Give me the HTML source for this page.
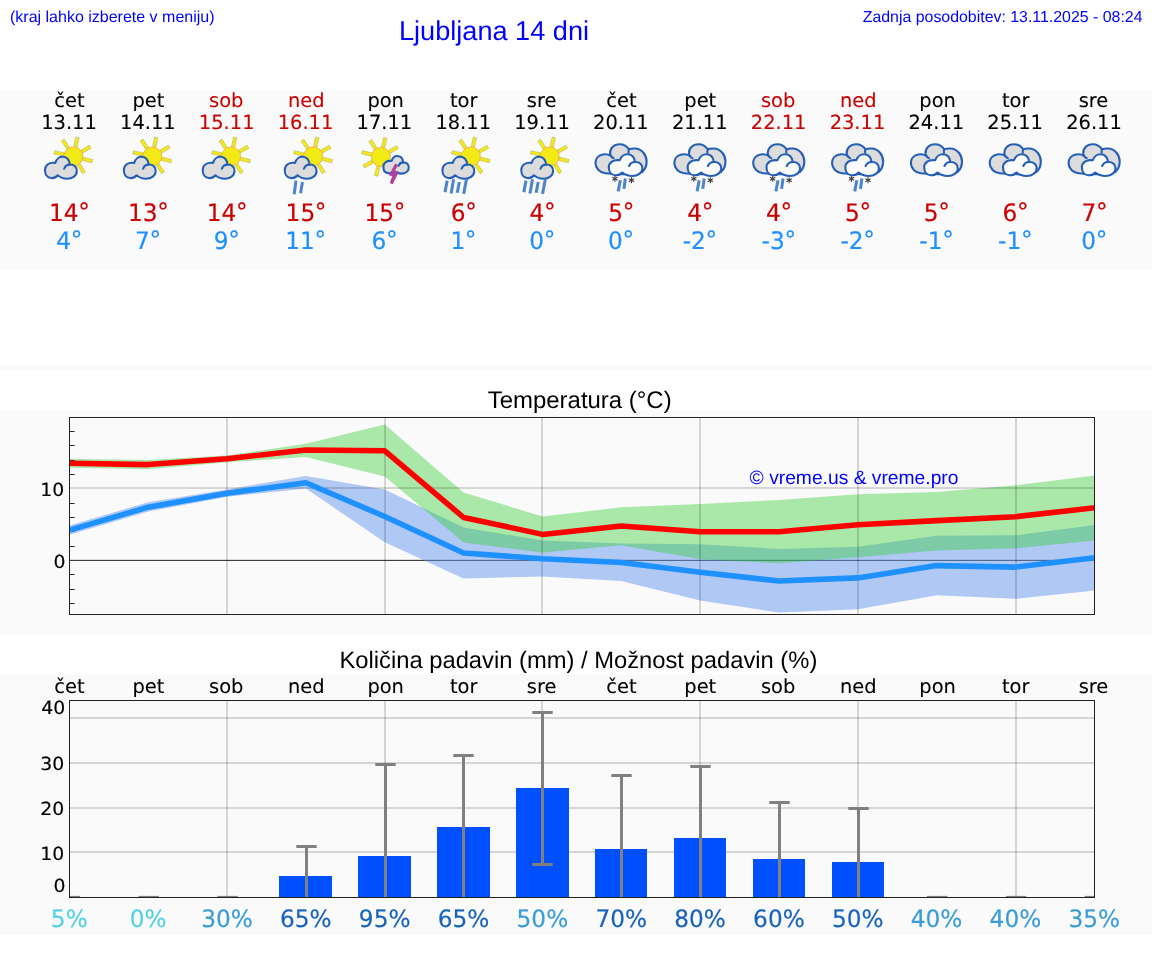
<!DOCTYPE html>
<html lang="sl"><head><meta charset="utf-8"><title>Ljubljana 14 dni</title>
<style>html,body{margin:0;padding:0;background:#fff}body{width:1152px;height:975px;overflow:hidden}svg{display:block}.dv{font-family:'DejaVu Sans','Liberation Sans',sans-serif}.dv text{fill:currentColor;stroke:currentColor;stroke-width:.18px}.dv text.n{stroke-width:.1px}.ls{font-family:'Liberation Sans',Arial,Helvetica,sans-serif}text{text-rendering:geometricPrecision}</style></head><body>
<svg width="1152" height="975" viewBox="0 0 1152 975">
<defs>
<g id="sc"><g transform="translate(-39.50,130) scale(0.07179)"><g transform="translate(605,368)"><rect x="138" y="-24" width="134" height="48" fill="#f2ea14" stroke="#a8a27c" stroke-width="6" transform="rotate(-168.0)"/><rect x="138" y="-24" width="134" height="48" fill="#f2ea14" stroke="#a8a27c" stroke-width="6" transform="rotate(-123.0)"/><rect x="138" y="-24" width="134" height="48" fill="#f2ea14" stroke="#a8a27c" stroke-width="6" transform="rotate(-78.0)"/><rect x="138" y="-24" width="134" height="48" fill="#f2ea14" stroke="#a8a27c" stroke-width="6" transform="rotate(-30.0)"/><rect x="138" y="-24" width="134" height="48" fill="#f2ea14" stroke="#a8a27c" stroke-width="6" transform="rotate(14.0)"/><rect x="138" y="-24" width="134" height="48" fill="#f2ea14" stroke="#a8a27c" stroke-width="6" transform="rotate(57.0)"/><circle r="132" fill="#f2ea14" stroke="#f5ae28" stroke-width="12"/></g><g transform="translate(17.0,21.0) scale(0.960,0.960)"><path d="M350 455 C370 390 420 362 460 365 C520 370 555 420 560 480 C620 475 665 520 662 575 C660 640 600 685 520 685 C470 685 420 665 385 635 C360 665 320 680 285 675 C230 670 198 620 200 555 C202 490 260 440 350 455 Z" fill="#dcdcdc" stroke="#255fb5" stroke-width="30.2" stroke-linejoin="round"/><path d="M560 480 C520 480 490 505 478 540" fill="none" stroke="#255fb5" stroke-width="30.2" stroke-linecap="round"/></g></g></g>
<g id="sr2"><g transform="translate(-39.50,130) scale(0.07179)"><g transform="translate(605,368)"><rect x="138" y="-24" width="134" height="48" fill="#f2ea14" stroke="#a8a27c" stroke-width="6" transform="rotate(-168.0)"/><rect x="138" y="-24" width="134" height="48" fill="#f2ea14" stroke="#a8a27c" stroke-width="6" transform="rotate(-123.0)"/><rect x="138" y="-24" width="134" height="48" fill="#f2ea14" stroke="#a8a27c" stroke-width="6" transform="rotate(-78.0)"/><rect x="138" y="-24" width="134" height="48" fill="#f2ea14" stroke="#a8a27c" stroke-width="6" transform="rotate(-30.0)"/><rect x="138" y="-24" width="134" height="48" fill="#f2ea14" stroke="#a8a27c" stroke-width="6" transform="rotate(14.0)"/><rect x="138" y="-24" width="134" height="48" fill="#f2ea14" stroke="#a8a27c" stroke-width="6" transform="rotate(57.0)"/><circle r="132" fill="#f2ea14" stroke="#f5ae28" stroke-width="12"/></g><g transform="translate(17.0,21.0) scale(0.960,0.960)"><path d="M350 455 C370 390 420 362 460 365 C520 370 555 420 560 480 C620 475 665 520 662 575 C660 640 600 685 520 685 C470 685 420 665 385 635 C360 665 320 680 285 675 C230 670 198 620 200 555 C202 490 260 440 350 455 Z" fill="#dcdcdc" stroke="#255fb5" stroke-width="30.2" stroke-linejoin="round"/><path d="M560 480 C520 480 490 505 478 540" fill="none" stroke="#255fb5" stroke-width="30.2" stroke-linecap="round"/></g><line x1="365" y1="705" x2="340" y2="895" stroke="#3d79c9" stroke-opacity="0.92" stroke-width="42"/><line x1="455" y1="725" x2="430" y2="880" stroke="#3d79c9" stroke-opacity="0.92" stroke-width="42"/></g></g>
<g id="sr4"><g transform="translate(-39.50,130) scale(0.07179)"><g transform="translate(605,368)"><rect x="138" y="-24" width="134" height="48" fill="#f2ea14" stroke="#a8a27c" stroke-width="6" transform="rotate(-168.0)"/><rect x="138" y="-24" width="134" height="48" fill="#f2ea14" stroke="#a8a27c" stroke-width="6" transform="rotate(-123.0)"/><rect x="138" y="-24" width="134" height="48" fill="#f2ea14" stroke="#a8a27c" stroke-width="6" transform="rotate(-78.0)"/><rect x="138" y="-24" width="134" height="48" fill="#f2ea14" stroke="#a8a27c" stroke-width="6" transform="rotate(-30.0)"/><rect x="138" y="-24" width="134" height="48" fill="#f2ea14" stroke="#a8a27c" stroke-width="6" transform="rotate(14.0)"/><rect x="138" y="-24" width="134" height="48" fill="#f2ea14" stroke="#a8a27c" stroke-width="6" transform="rotate(57.0)"/><circle r="132" fill="#f2ea14" stroke="#f5ae28" stroke-width="12"/></g><g transform="translate(17.0,21.0) scale(0.960,0.960)"><path d="M350 455 C370 390 420 362 460 365 C520 370 555 420 560 480 C620 475 665 520 662 575 C660 640 600 685 520 685 C470 685 420 665 385 635 C360 665 320 680 285 675 C230 670 198 620 200 555 C202 490 260 440 350 455 Z" fill="#dcdcdc" stroke="#255fb5" stroke-width="30.2" stroke-linejoin="round"/><path d="M560 480 C520 480 490 505 478 540" fill="none" stroke="#255fb5" stroke-width="30.2" stroke-linecap="round"/></g><line x1="275" y1="705" x2="245" y2="865" stroke="#3d79c9" stroke-opacity="0.92" stroke-width="42"/><line x1="365" y1="685" x2="330" y2="885" stroke="#3d79c9" stroke-opacity="0.92" stroke-width="42"/><line x1="445" y1="725" x2="415" y2="875" stroke="#3d79c9" stroke-opacity="0.92" stroke-width="42"/><line x1="545" y1="680" x2="505" y2="890" stroke="#3d79c9" stroke-opacity="0.92" stroke-width="42"/></g></g>
<g id="st"><g transform="translate(-39.90,130) scale(0.07179)"><g transform="translate(500,375)"><rect x="138" y="-24" width="134" height="48" fill="#f2ea14" stroke="#a8a27c" stroke-width="6" transform="rotate(-166.0)"/><rect x="138" y="-24" width="134" height="48" fill="#f2ea14" stroke="#a8a27c" stroke-width="6" transform="rotate(-123.0)"/><rect x="138" y="-24" width="134" height="48" fill="#f2ea14" stroke="#a8a27c" stroke-width="6" transform="rotate(-77.0)"/><rect x="138" y="-24" width="134" height="48" fill="#f2ea14" stroke="#a8a27c" stroke-width="6" transform="rotate(-31.0)"/><rect x="138" y="-24" width="134" height="48" fill="#f2ea14" stroke="#a8a27c" stroke-width="6" transform="rotate(104.0)"/><rect x="138" y="-24" width="134" height="48" fill="#f2ea14" stroke="#a8a27c" stroke-width="6" transform="rotate(151.0)"/><circle r="132" fill="#f2ea14" stroke="#f5ae28" stroke-width="12"/></g><g transform="translate(382.0,84.0) scale(0.765,0.765)"><path d="M350 455 C370 390 420 362 460 365 C520 370 555 420 560 480 C620 475 665 520 662 575 C660 640 600 685 520 685 C470 685 420 665 385 635 C360 665 320 680 285 675 C230 670 198 620 200 555 C202 490 260 440 350 455 Z" fill="#dcdcdc" stroke="#255fb5" stroke-width="37.9" stroke-linejoin="round"/><path d="M560 480 C520 480 490 505 478 540" fill="none" stroke="#255fb5" stroke-width="37.9" stroke-linecap="round"/></g><path d="M700 465 L742 490 L692 572 L752 577 L665 757 L623 737 L660 642 L610 635 Z" fill="#b040a0"/></g></g>
<g id="cl"><g transform="translate(-39.85,130) scale(0.07179)"><path d="M410 360 C380 342 335 334 295 342 C228 354 192 408 194 465 C196 535 255 596 330 602 L470 612 L700 618 L845 585 C885 550 906 500 906 440 C906 350 845 262 740 258 C710 257 680 261 660 270 C630 222 585 198 530 198 C450 198 390 255 398 330 C399 340 403 352 410 360 Z" fill="#dcdcdc" stroke="#255fb5" stroke-width="29" stroke-linejoin="round"/><path d="M410 360 C420 376 432 386 446 392 M660 270 C652 285 651 300 656 316" fill="none" stroke="#255fb5" stroke-width="29" stroke-linecap="round"/><g transform="translate(176.7,-7.2) scale(1.014,0.944)"><path d="M350 455 C370 390 420 362 460 365 C520 370 555 420 560 480 C620 475 665 520 662 575 C660 640 600 685 520 685 C470 685 420 665 385 635 C360 665 320 680 285 675 C230 670 198 620 200 555 C202 490 260 440 350 455 Z" fill="#fcfcfc" stroke="#255fb5" stroke-width="29.6" stroke-linejoin="round"/><path d="M560 480 C520 480 490 505 478 540" fill="none" stroke="#255fb5" stroke-width="29.6" stroke-linecap="round"/></g></g></g>
<g id="sl"><g transform="translate(-39.85,130) scale(0.07179)"><path d="M410 360 C380 342 335 334 295 342 C228 354 192 408 194 465 C196 535 255 596 330 602 L470 612 L700 618 L845 585 C885 550 906 500 906 440 C906 350 845 262 740 258 C710 257 680 261 660 270 C630 222 585 198 530 198 C450 198 390 255 398 330 C399 340 403 352 410 360 Z" fill="#dcdcdc" stroke="#255fb5" stroke-width="29" stroke-linejoin="round"/><path d="M410 360 C420 376 432 386 446 392 M660 270 C652 285 651 300 656 316" fill="none" stroke="#255fb5" stroke-width="29" stroke-linecap="round"/><g transform="translate(176.7,-7.2) scale(1.014,0.944)"><path d="M350 455 C370 390 420 362 460 365 C520 370 555 420 560 480 C620 475 665 520 662 575 C660 640 600 685 520 685 C470 685 420 665 385 635 C360 665 320 680 285 675 C230 670 198 620 200 555 C202 490 260 440 350 455 Z" fill="#fcfcfc" stroke="#255fb5" stroke-width="29.6" stroke-linejoin="round"/><path d="M560 480 C520 480 490 505 478 540" fill="none" stroke="#255fb5" stroke-width="29.6" stroke-linecap="round"/></g><line x1="465" y1="638" x2="465" y2="722" stroke="#3c3c3c" stroke-width="15"/><line x1="501" y1="659" x2="429" y2="701" stroke="#3c3c3c" stroke-width="15"/><line x1="501" y1="701" x2="429" y2="659" stroke="#3c3c3c" stroke-width="15"/><line x1="695" y1="658" x2="695" y2="742" stroke="#3c3c3c" stroke-width="15"/><line x1="731" y1="679" x2="659" y2="721" stroke="#3c3c3c" stroke-width="15"/><line x1="731" y1="721" x2="659" y2="679" stroke="#3c3c3c" stroke-width="15"/><line x1="540" y1="700" x2="510" y2="855" stroke="#3d79c9" stroke-opacity="0.92" stroke-width="42"/><line x1="610" y1="675" x2="590" y2="820" stroke="#3d79c9" stroke-opacity="0.92" stroke-width="42"/></g></g>
</defs>
<rect x="0" y="90" width="1152" height="180" fill="#fafafa"/>
<rect x="0" y="365" width="1152" height="5" fill="#fafafa"/>
<rect x="0" y="410" width="1152" height="225" fill="#fafafa"/>
<rect x="0" y="675" width="1152" height="260" fill="#fafafa"/>
<g class="ls" fill="#0000ff">
<text x="10" y="22" font-size="16">(kraj lahko izberete v meniju)</text>
<text x="494" y="39.6" font-size="27.15" text-anchor="middle">Ljubljana 14 dni</text>
<text x="1142.5" y="22.1" font-size="15.9" text-anchor="end">Zadnja posodobitev: 13.11.2025 - 08:24</text>
</g>
<g class="dv" text-anchor="middle">
<text class="n" x="69.50" y="107" font-size="19.44" color="#000">čet</text>
<text class="n" x="69.00" y="129" font-size="19.44" color="#000">13.11</text>
<use href="#sc" x="69.50" y="0"/>
<text transform="translate(69.50,221.20) scale(0.985,1.020)" font-size="23.60" color="#cc0000" text-anchor="middle">14<tspan dy="-0.9" dx="-0.3">°</tspan></text>
<text transform="translate(69.20,248.80) scale(0.985,1.020)" font-size="23.60" color="#1e90ff" text-anchor="middle">4<tspan dy="-0.9" dx="-0.3">°</tspan></text>
<text class="n" x="148.35" y="107" font-size="19.44" color="#000">pet</text>
<text class="n" x="147.85" y="129" font-size="19.44" color="#000">14.11</text>
<use href="#sc" x="148.35" y="0"/>
<text transform="translate(148.35,221.20) scale(0.985,1.020)" font-size="23.60" color="#cc0000" text-anchor="middle">13<tspan dy="-0.9" dx="-0.3">°</tspan></text>
<text transform="translate(148.05,248.80) scale(0.985,1.020)" font-size="23.60" color="#1e90ff" text-anchor="middle">7<tspan dy="-0.9" dx="-0.3">°</tspan></text>
<text class="n" x="226.19" y="107" font-size="19.44" color="#cc0000">sob</text>
<text class="n" x="226.69" y="129" font-size="19.44" color="#cc0000">15.11</text>
<use href="#sc" x="227.19" y="0"/>
<text transform="translate(227.19,221.20) scale(0.985,1.020)" font-size="23.60" color="#cc0000" text-anchor="middle">14<tspan dy="-0.9" dx="-0.3">°</tspan></text>
<text transform="translate(226.89,248.80) scale(0.985,1.020)" font-size="23.60" color="#1e90ff" text-anchor="middle">9<tspan dy="-0.9" dx="-0.3">°</tspan></text>
<text class="n" x="306.34" y="107" font-size="19.44" color="#cc0000">ned</text>
<text class="n" x="305.54" y="129" font-size="19.44" color="#cc0000">16.11</text>
<use href="#sr2" x="309.24" y="0"/>
<text transform="translate(306.04,221.20) scale(0.985,1.020)" font-size="23.60" color="#cc0000" text-anchor="middle">15<tspan dy="-0.9" dx="-0.3">°</tspan></text>
<text transform="translate(305.74,248.80) scale(0.985,1.020)" font-size="23.60" color="#1e90ff" text-anchor="middle">11<tspan dy="-0.9" dx="-0.3">°</tspan></text>
<text class="n" x="385.68" y="107" font-size="19.44" color="#000">pon</text>
<text class="n" x="384.38" y="129" font-size="19.44" color="#000">17.11</text>
<use href="#st" x="384.88" y="0"/>
<text transform="translate(384.88,221.20) scale(0.985,1.020)" font-size="23.60" color="#cc0000" text-anchor="middle">15<tspan dy="-0.9" dx="-0.3">°</tspan></text>
<text transform="translate(384.58,248.80) scale(0.985,1.020)" font-size="23.60" color="#1e90ff" text-anchor="middle">6<tspan dy="-0.9" dx="-0.3">°</tspan></text>
<text class="n" x="463.73" y="107" font-size="19.44" color="#000">tor</text>
<text class="n" x="463.23" y="129" font-size="19.44" color="#000">18.11</text>
<use href="#sr4" x="466.93" y="0"/>
<text transform="translate(463.73,221.20) scale(0.985,1.020)" font-size="23.60" color="#cc0000" text-anchor="middle">6<tspan dy="-0.9" dx="-0.3">°</tspan></text>
<text transform="translate(463.43,248.80) scale(0.985,1.020)" font-size="23.60" color="#1e90ff" text-anchor="middle">1<tspan dy="-0.9" dx="-0.3">°</tspan></text>
<text class="n" x="541.58" y="107" font-size="19.44" color="#000">sre</text>
<text class="n" x="542.08" y="129" font-size="19.44" color="#000">19.11</text>
<use href="#sr4" x="545.78" y="0"/>
<text transform="translate(542.58,221.20) scale(0.985,1.020)" font-size="23.60" color="#cc0000" text-anchor="middle">4<tspan dy="-0.9" dx="-0.3">°</tspan></text>
<text transform="translate(542.28,248.80) scale(0.985,1.020)" font-size="23.60" color="#1e90ff" text-anchor="middle">0<tspan dy="-0.9" dx="-0.3">°</tspan></text>
<text class="n" x="621.42" y="107" font-size="19.44" color="#000">čet</text>
<text class="n" x="620.92" y="129" font-size="19.44" color="#000">20.11</text>
<use href="#sl" x="621.42" y="0"/>
<text transform="translate(621.42,221.20) scale(0.985,1.020)" font-size="23.60" color="#cc0000" text-anchor="middle">5<tspan dy="-0.9" dx="-0.3">°</tspan></text>
<text transform="translate(621.12,248.80) scale(0.985,1.020)" font-size="23.60" color="#1e90ff" text-anchor="middle">0<tspan dy="-0.9" dx="-0.3">°</tspan></text>
<text class="n" x="700.27" y="107" font-size="19.44" color="#000">pet</text>
<text class="n" x="699.77" y="129" font-size="19.44" color="#000">21.11</text>
<use href="#sl" x="700.27" y="0"/>
<text transform="translate(700.27,221.20) scale(0.985,1.020)" font-size="23.60" color="#cc0000" text-anchor="middle">4<tspan dy="-0.9" dx="-0.3">°</tspan></text>
<text transform="translate(699.97,248.80) scale(0.985,1.020)" font-size="23.60" color="#1e90ff" text-anchor="middle">-2<tspan dy="-0.9" dx="-0.3">°</tspan></text>
<text class="n" x="778.12" y="107" font-size="19.44" color="#cc0000">sob</text>
<text class="n" x="778.62" y="129" font-size="19.44" color="#cc0000">22.11</text>
<use href="#sl" x="779.12" y="0"/>
<text transform="translate(779.12,221.20) scale(0.985,1.020)" font-size="23.60" color="#cc0000" text-anchor="middle">4<tspan dy="-0.9" dx="-0.3">°</tspan></text>
<text transform="translate(778.82,248.80) scale(0.985,1.020)" font-size="23.60" color="#1e90ff" text-anchor="middle">-3<tspan dy="-0.9" dx="-0.3">°</tspan></text>
<text class="n" x="858.26" y="107" font-size="19.44" color="#cc0000">ned</text>
<text class="n" x="857.46" y="129" font-size="19.44" color="#cc0000">23.11</text>
<use href="#sl" x="857.96" y="0"/>
<text transform="translate(857.96,221.20) scale(0.985,1.020)" font-size="23.60" color="#cc0000" text-anchor="middle">5<tspan dy="-0.9" dx="-0.3">°</tspan></text>
<text transform="translate(857.66,248.80) scale(0.985,1.020)" font-size="23.60" color="#1e90ff" text-anchor="middle">-2<tspan dy="-0.9" dx="-0.3">°</tspan></text>
<text class="n" x="937.61" y="107" font-size="19.44" color="#000">pon</text>
<text class="n" x="936.31" y="129" font-size="19.44" color="#000">24.11</text>
<use href="#cl" x="936.81" y="0"/>
<text transform="translate(936.81,221.20) scale(0.985,1.020)" font-size="23.60" color="#cc0000" text-anchor="middle">5<tspan dy="-0.9" dx="-0.3">°</tspan></text>
<text transform="translate(936.51,248.80) scale(0.985,1.020)" font-size="23.60" color="#1e90ff" text-anchor="middle">-1<tspan dy="-0.9" dx="-0.3">°</tspan></text>
<text class="n" x="1015.65" y="107" font-size="19.44" color="#000">tor</text>
<text class="n" x="1015.15" y="129" font-size="19.44" color="#000">25.11</text>
<use href="#cl" x="1015.65" y="0"/>
<text transform="translate(1015.65,221.20) scale(0.985,1.020)" font-size="23.60" color="#cc0000" text-anchor="middle">6<tspan dy="-0.9" dx="-0.3">°</tspan></text>
<text transform="translate(1015.35,248.80) scale(0.985,1.020)" font-size="23.60" color="#1e90ff" text-anchor="middle">-1<tspan dy="-0.9" dx="-0.3">°</tspan></text>
<text class="n" x="1093.50" y="107" font-size="19.44" color="#000">sre</text>
<text class="n" x="1094.00" y="129" font-size="19.44" color="#000">26.11</text>
<use href="#cl" x="1094.50" y="0"/>
<text transform="translate(1094.50,221.20) scale(0.985,1.020)" font-size="23.60" color="#cc0000" text-anchor="middle">7<tspan dy="-0.9" dx="-0.3">°</tspan></text>
<text transform="translate(1094.20,248.80) scale(0.985,1.020)" font-size="23.60" color="#1e90ff" text-anchor="middle">0<tspan dy="-0.9" dx="-0.3">°</tspan></text>
</g>
<text class="ls" x="579.7" y="408" font-size="23.95" text-anchor="middle" fill="#000">Temperatura (°C)</text>
<clipPath id="ct"><rect x="69.5" y="417.5" width="1025.0" height="197.0"/></clipPath>
<g clip-path="url(#ct)">
<line x1="69.5" y1="560.36" x2="1094.5" y2="560.36" stroke="#000" stroke-opacity="0.88" stroke-width="1"/>
<polygon points="69.4,525.4 148.2,502.2 227.1,489.4 305.9,476.0 384.8,489.6 463.6,527.5 542.5,540.6 621.3,543.5 700.2,544.2 779.0,549.0 857.9,546.7 936.7,535.8 1015.6,535.2 1095.0,525.0 1095.0,590.4 1015.6,598.8 936.7,595.2 857.9,609.2 779.0,612.5 700.2,600.4 621.3,581.0 542.5,576.5 463.6,578.5 384.8,542.3 305.9,488.5 227.1,496.8 148.2,511.6 69.4,534.8" fill="#6495ed" fill-opacity="0.5"/>
<polygon points="69.4,458.8 148.2,460.0 227.1,455.4 305.9,443.8 384.8,424.4 463.6,492.5 542.5,516.5 621.3,507.3 700.2,504.0 779.0,500.0 857.9,494.2 936.7,492.0 1015.6,485.2 1095.0,475.4 1095.0,540.6 1015.6,548.3 936.7,550.4 857.9,557.3 779.0,563.3 700.2,559.2 621.3,545.2 542.5,552.5 463.6,542.5 384.8,476.6 305.9,456.9 227.1,462.3 148.2,469.3 69.4,467.8" fill="#32cd32" fill-opacity="0.4"/>
<line x1="227" y1="417.5" x2="227" y2="614.5" stroke="#000" stroke-opacity="0.145" stroke-width="2"/>
<line x1="385" y1="417.5" x2="385" y2="614.5" stroke="#000" stroke-opacity="0.145" stroke-width="2"/>
<line x1="542" y1="417.5" x2="542" y2="614.5" stroke="#000" stroke-opacity="0.145" stroke-width="2"/>
<line x1="700" y1="417.5" x2="700" y2="614.5" stroke="#000" stroke-opacity="0.145" stroke-width="2"/>
<line x1="858" y1="417.5" x2="858" y2="614.5" stroke="#000" stroke-opacity="0.145" stroke-width="2"/>
<line x1="1016" y1="417.5" x2="1016" y2="614.5" stroke="#000" stroke-opacity="0.145" stroke-width="2"/>
<line x1="69.5" y1="488" x2="1094.5" y2="488" stroke="#000" stroke-opacity="0.145" stroke-width="2"/>
<line x1="69.5" y1="603.5" x2="74.5" y2="603.5" stroke="#222" stroke-width="1"/>
<line x1="69.5" y1="589.5" x2="74.5" y2="589.5" stroke="#222" stroke-width="1"/>
<line x1="69.5" y1="574.5" x2="74.5" y2="574.5" stroke="#222" stroke-width="1"/>
<line x1="69.5" y1="546.5" x2="74.5" y2="546.5" stroke="#222" stroke-width="1"/>
<line x1="69.5" y1="531.5" x2="74.5" y2="531.5" stroke="#222" stroke-width="1"/>
<line x1="69.5" y1="517.5" x2="74.5" y2="517.5" stroke="#222" stroke-width="1"/>
<line x1="69.5" y1="503.5" x2="74.5" y2="503.5" stroke="#222" stroke-width="1"/>
<line x1="69.5" y1="474.5" x2="74.5" y2="474.5" stroke="#222" stroke-width="1"/>
<line x1="69.5" y1="460.5" x2="74.5" y2="460.5" stroke="#222" stroke-width="1"/>
<line x1="69.5" y1="445.5" x2="74.5" y2="445.5" stroke="#222" stroke-width="1"/>
<line x1="69.5" y1="431.5" x2="74.5" y2="431.5" stroke="#222" stroke-width="1"/>
<polyline points="69.4,463.3 148.2,464.6 227.1,458.8 305.9,450.0 384.8,450.8 463.6,517.5 542.5,534.4 621.3,526.0 700.2,531.7 779.0,531.7 857.9,524.8 936.7,520.6 1015.6,516.7 1095.0,507.7" fill="none" stroke="#ff0000" stroke-width="5.56" stroke-linejoin="round"/>
<polyline points="69.4,530.2 148.2,507.2 227.1,493.3 305.9,482.7 384.8,516.5 463.6,552.9 542.5,558.8 621.3,562.5 700.2,572.3 779.0,581.0 857.9,577.9 936.7,565.6 1015.6,567.1 1095.0,557.7" fill="none" stroke="#1e90ff" stroke-width="5.56" stroke-linejoin="round"/>
</g>
<rect x="69.5" y="417.5" width="1025.0" height="197.0" fill="none" stroke="#222" stroke-width="1"/>
<g class="dv"><text transform="translate(64.20,495.50) scale(1.090,1.050)" font-size="17.30" color="#000" text-anchor="end">10</text><text transform="translate(65.50,567.60) scale(1.090,1.050)" font-size="17.30" color="#000" text-anchor="end">0</text></g>
<text class="ls" x="749.6" y="483.8" font-size="19.25" fill="#0000ff">© vreme.us &amp; vreme.pro</text>
<text class="ls" x="578.4" y="668" font-size="23.75" text-anchor="middle" fill="#000">Količina padavin (mm) / Možnost padavin (%)</text>
<g class="dv" font-size="19.44" text-anchor="middle" color="#000">
<text class="n" x="69.50" y="693.1">čet</text>
<text class="n" x="148.35" y="693.1">pet</text>
<text class="n" x="226.19" y="693.1">sob</text>
<text class="n" x="306.34" y="693.1">ned</text>
<text class="n" x="385.68" y="693.1">pon</text>
<text class="n" x="463.73" y="693.1">tor</text>
<text class="n" x="541.58" y="693.1">sre</text>
<text class="n" x="621.42" y="693.1">čet</text>
<text class="n" x="700.27" y="693.1">pet</text>
<text class="n" x="778.12" y="693.1">sob</text>
<text class="n" x="858.26" y="693.1">ned</text>
<text class="n" x="937.61" y="693.1">pon</text>
<text class="n" x="1015.65" y="693.1">tor</text>
<text class="n" x="1093.50" y="693.1">sre</text>
</g>
<line x1="227" y1="700.5" x2="227" y2="897.5" stroke="#000" stroke-opacity="0.145" stroke-width="2"/>
<line x1="385" y1="700.5" x2="385" y2="897.5" stroke="#000" stroke-opacity="0.145" stroke-width="2"/>
<line x1="542" y1="700.5" x2="542" y2="897.5" stroke="#000" stroke-opacity="0.145" stroke-width="2"/>
<line x1="700" y1="700.5" x2="700" y2="897.5" stroke="#000" stroke-opacity="0.145" stroke-width="2"/>
<line x1="858" y1="700.5" x2="858" y2="897.5" stroke="#000" stroke-opacity="0.145" stroke-width="2"/>
<line x1="1016" y1="700.5" x2="1016" y2="897.5" stroke="#000" stroke-opacity="0.145" stroke-width="2"/>
<line x1="69.5" y1="852" x2="1094.5" y2="852" stroke="#000" stroke-opacity="0.145" stroke-width="2"/>
<line x1="69.5" y1="808" x2="1094.5" y2="808" stroke="#000" stroke-opacity="0.145" stroke-width="2"/>
<line x1="69.5" y1="763" x2="1094.5" y2="763" stroke="#000" stroke-opacity="0.145" stroke-width="2"/>
<line x1="69.5" y1="718" x2="1094.5" y2="718" stroke="#000" stroke-opacity="0.145" stroke-width="2"/>
<line x1="69.5" y1="896.7" x2="80.1" y2="896.7" stroke="#808080" stroke-width="1.6"/>
<line x1="138.5" y1="896.7" x2="158.9" y2="896.7" stroke="#808080" stroke-width="1.6"/>
<line x1="217.4" y1="896.7" x2="237.8" y2="896.7" stroke="#808080" stroke-width="1.6"/>
<rect x="279.0" y="876.0" width="53.0" height="21.5" fill="#0050ff"/>
<line x1="306.5" y1="846.5" x2="306.5" y2="897.5" stroke="#808080" stroke-width="3"/>
<line x1="296.3" y1="846.5" x2="316.7" y2="846.5" stroke="#808080" stroke-width="3"/>
<rect x="358.0" y="856.0" width="53.0" height="41.5" fill="#0050ff"/>
<line x1="385.5" y1="764.5" x2="385.5" y2="897.5" stroke="#808080" stroke-width="3"/>
<line x1="375.3" y1="764.5" x2="395.7" y2="764.5" stroke="#808080" stroke-width="3"/>
<rect x="437.0" y="827.0" width="53.0" height="70.5" fill="#0050ff"/>
<line x1="463.5" y1="755.5" x2="463.5" y2="897.5" stroke="#808080" stroke-width="3"/>
<line x1="453.3" y1="755.5" x2="473.7" y2="755.5" stroke="#808080" stroke-width="3"/>
<rect x="516.0" y="788.0" width="53.0" height="109.5" fill="#0050ff"/>
<line x1="542.5" y1="712.5" x2="542.5" y2="864.5" stroke="#808080" stroke-width="3"/>
<line x1="532.3" y1="712.5" x2="552.7" y2="712.5" stroke="#808080" stroke-width="3"/>
<line x1="532.3" y1="864.5" x2="552.7" y2="864.5" stroke="#808080" stroke-width="3"/>
<rect x="595.0" y="849.0" width="52.0" height="48.5" fill="#0050ff"/>
<line x1="621.5" y1="775.5" x2="621.5" y2="897.5" stroke="#808080" stroke-width="3"/>
<line x1="611.3" y1="775.5" x2="631.7" y2="775.5" stroke="#808080" stroke-width="3"/>
<rect x="674.0" y="838.0" width="52.0" height="59.5" fill="#0050ff"/>
<line x1="700.5" y1="766.5" x2="700.5" y2="897.5" stroke="#808080" stroke-width="3"/>
<line x1="690.3" y1="766.5" x2="710.7" y2="766.5" stroke="#808080" stroke-width="3"/>
<rect x="753.0" y="859.0" width="52.0" height="38.5" fill="#0050ff"/>
<line x1="779.5" y1="802.5" x2="779.5" y2="897.5" stroke="#808080" stroke-width="3"/>
<line x1="769.3" y1="802.5" x2="789.7" y2="802.5" stroke="#808080" stroke-width="3"/>
<rect x="832.0" y="862.0" width="52.0" height="35.5" fill="#0050ff"/>
<line x1="858.5" y1="808.5" x2="858.5" y2="897.5" stroke="#808080" stroke-width="3"/>
<line x1="848.3" y1="808.5" x2="868.7" y2="808.5" stroke="#808080" stroke-width="3"/>
<line x1="927.0" y1="896.7" x2="947.4" y2="896.7" stroke="#808080" stroke-width="1.6"/>
<line x1="1005.9" y1="896.7" x2="1026.3" y2="896.7" stroke="#808080" stroke-width="1.6"/>
<line x1="1084.7" y1="896.7" x2="1094.5" y2="896.7" stroke="#808080" stroke-width="1.6"/>
<rect x="69.5" y="700.5" width="1025.0" height="197.0" fill="none" stroke="#222" stroke-width="1"/>
<g class="dv">
<text transform="translate(65.30,713.60) scale(1.090,1.050)" font-size="17.30" color="#000" text-anchor="end">40</text>
<text transform="translate(64.20,770.40) scale(1.090,1.050)" font-size="17.30" color="#000" text-anchor="end">30</text>
<text transform="translate(64.20,815.20) scale(1.090,1.050)" font-size="17.30" color="#000" text-anchor="end">20</text>
<text transform="translate(64.20,859.80) scale(1.090,1.050)" font-size="17.30" color="#000" text-anchor="end">10</text>
<text transform="translate(65.50,892.30) scale(1.090,1.050)" font-size="17.30" color="#000" text-anchor="end">0</text>
</g>
<g class="dv" font-size="23.6" text-anchor="middle">
<text transform="translate(69.30,926.85) scale(0.985,1.015)" font-size="23.60" color="#55d2e3" text-anchor="middle">5%</text>
<text transform="translate(148.15,926.85) scale(0.985,1.015)" font-size="23.60" color="#55d2e3" text-anchor="middle">0%</text>
<text transform="translate(226.99,926.85) scale(0.985,1.015)" font-size="23.60" color="#3a9dd8" text-anchor="middle">30%</text>
<text transform="translate(305.84,926.85) scale(0.985,1.015)" font-size="23.60" color="#1863bd" text-anchor="middle">65%</text>
<text transform="translate(384.68,926.85) scale(0.985,1.015)" font-size="23.60" color="#1863bd" text-anchor="middle">95%</text>
<text transform="translate(463.53,926.85) scale(0.985,1.015)" font-size="23.60" color="#1863bd" text-anchor="middle">65%</text>
<text transform="translate(542.38,926.85) scale(0.985,1.015)" font-size="23.60" color="#3a9dd8" text-anchor="middle">50%</text>
<text transform="translate(621.22,926.85) scale(0.985,1.015)" font-size="23.60" color="#1863bd" text-anchor="middle">70%</text>
<text transform="translate(700.07,926.85) scale(0.985,1.015)" font-size="23.60" color="#1863bd" text-anchor="middle">80%</text>
<text transform="translate(778.92,926.85) scale(0.985,1.015)" font-size="23.60" color="#1863bd" text-anchor="middle">60%</text>
<text transform="translate(857.76,926.85) scale(0.985,1.015)" font-size="23.60" color="#1863bd" text-anchor="middle">50%</text>
<text transform="translate(936.61,926.85) scale(0.985,1.015)" font-size="23.60" color="#3a9dd8" text-anchor="middle">40%</text>
<text transform="translate(1015.45,926.85) scale(0.985,1.015)" font-size="23.60" color="#3a9dd8" text-anchor="middle">40%</text>
<text transform="translate(1094.30,926.85) scale(0.985,1.015)" font-size="23.60" color="#3a9dd8" text-anchor="middle">35%</text>
</g>
</svg></body></html>
